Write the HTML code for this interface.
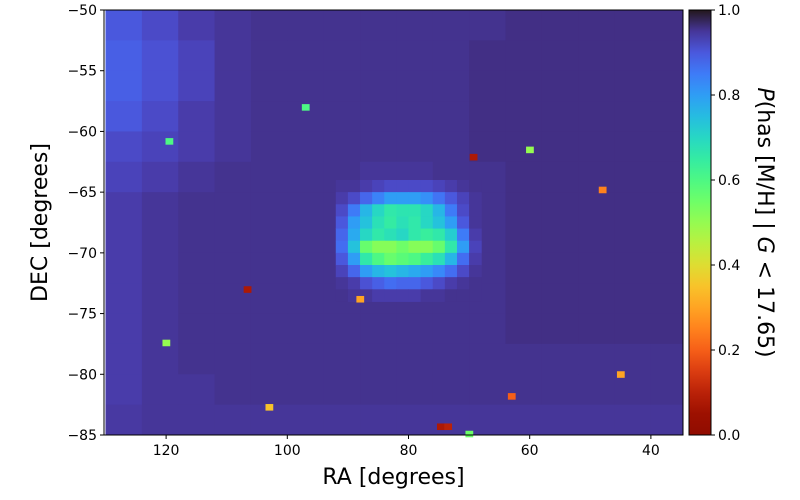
<!DOCTYPE html>
<html><head><meta charset="utf-8"><style>
html,body{margin:0;padding:0;background:#fff;}
svg{display:block;font-family:"DejaVu Sans","Liberation Sans",sans-serif;}
</style></head><body>
<svg id="chart" width="800" height="500" viewBox="0 0 800 500">
<defs><linearGradient id="cbar" x1="0" y1="1" x2="0" y2="0"></linearGradient></defs>
<g id="cells"></g>
<g id="axes"></g>
</svg>
<script>
// coarse background grid: 16 RA cols (6 deg each, 130 -> 34), 14 DEC rows (2.5 deg each, -50 -> -85)
const raEdges = [130,124,118,112,106,100,94,88,82,76,70,64,58,52,46,40,34];
const decEdges = [-50,-52.5,-55,-57.5,-60,-62.5,-65,-67.5,-70,-72.5,-75,-77.5,-80,-82.5,-85];
const bgValues = [
 [.9,.92,.94,.95,.955,.955,.955,.955,.955,.955,.955,.96,.96,.96,.96,.96],
 [.89,.91,.93,.95,.955,.955,.955,.955,.955,.955,.96,.96,.96,.96,.96,.96],
 [.89,.91,.93,.95,.955,.955,.955,.955,.955,.955,.96,.96,.96,.96,.96,.96],
 [.9,.92,.94,.95,.955,.955,.955,.955,.955,.955,.96,.96,.96,.96,.96,.96],
 [.92,.93,.94,.95,.955,.955,.955,.955,.955,.955,.96,.96,.96,.96,.96,.96],
 [.93,.94,.95,.955,.955,.955,.955,.95,.95,.955,.955,.96,.96,.96,.96,.96],
 [.94,.95,.955,.955,.955,.955,.955,.95,.95,.95,.955,.96,.96,.96,.96,.96],
 [.94,.95,.955,.955,.955,.955,.955,.95,.95,.95,.955,.96,.96,.96,.96,.96],
 [.94,.95,.955,.955,.955,.955,.955,.955,.955,.955,.955,.96,.96,.96,.96,.96],
 [.94,.95,.955,.955,.955,.955,.955,.955,.955,.955,.955,.96,.96,.96,.96,.96],
 [.94,.95,.955,.955,.955,.955,.955,.955,.955,.955,.955,.96,.96,.96,.96,.96],
 [.94,.95,.955,.955,.955,.955,.955,.955,.955,.955,.955,.955,.955,.955,.955,.955],
 [.94,.95,.95,.955,.955,.955,.955,.955,.955,.955,.955,.955,.955,.955,.955,.955],
 [.945,.95,.95,.95,.95,.95,.95,.95,.95,.95,.95,.95,.95,.95,.95,.95]
];
// fine LMC grid: RA 92 -> 68 step 2, DEC -64 -> -74 step 1
const lmcRa = [92,90,88,86,84,82,80,78,76,74,72,70,68];
const lmcDec = [-64,-65,-66,-67,-68,-69,-70,-71,-72,-73,-74];
const lmcValues = [
 [.95,.95,.94,.93,.92,.92,.92,.92,.93,.94,.95,.955],
 [.94,.92,.88,.84,.8,.8,.8,.82,.86,.9,.93,.95],
 [.92,.85,.76,.7,.66,.67,.67,.7,.76,.85,.92,.95],
 [.9,.8,.74,.68,.65,.68,.66,.7,.74,.8,.9,.95],
 [.88,.78,.7,.66,.68,.7,.66,.64,.66,.72,.85,.94],
 [.87,.74,.56,.52,.52,.55,.52,.52,.56,.66,.8,.93],
 [.9,.8,.66,.6,.56,.58,.6,.64,.68,.76,.87,.94],
 [.93,.88,.8,.76,.74,.76,.78,.8,.83,.87,.92,.95],
 [.95,.94,.91,.89,.87,.88,.88,.9,.92,.94,.95,.955],
 [.955,.95,.95,.94,.94,.94,.94,.95,.95,.955,.955,.955]
];
// isolated outlier pixels: RA, DEC, value
const spotRa  = [69.3,106.6,119.5,74.7,73.5,103,63,45,48,60,88,97,120,70];
const spotDec = [-62.1,-73,-60.8,-84.3,-84.3,-82.7,-81.8,-80,-64.8,-61.5,-73.8,-58,-77.4,-84.9];
const spotVal = [.08,.08,.6,.08,.1,.35,.2,.3,.25,.5,.3,.6,.5,.55];
const xTicks = [120,100,80,60,40];
const yTicks = [-50,-55,-60,-65,-70,-75,-80,-85];
const cTicks = [0,0.2,0.4,0.6,0.8,1.0];

const X0=104,X1=683,Y0=10,Y1=435, RA0=130.25, RA1=34.7, D0=-50, D1=-85;
const xs = ra => X0 + (RA0-ra)/(RA0-RA1)*(X1-X0);
const ys = d => Y0 + (D0-d)/(D0-D1)*(Y1-Y0);
function turbo(t){t=Math.max(0,Math.min(1,t));
 const r=34.61+t*(1172.33-t*(10793.56-t*(33300.12-t*(38394.49-t*14825.05))));
 const g=23.31+t*(557.33+t*(1225.33-t*(3574.96-t*(1073.77+t*707.56))));
 const b=27.2+t*(3211.1-t*(15327.97-t*(27814-t*(22569.18-t*6838.66))));
 const c=v=>Math.max(0,Math.min(255,Math.round(v)));
 return `rgb(${c(r)},${c(g)},${c(b)})`;}
const col = p => turbo(1-p);
const NS="http://www.w3.org/2000/svg";
function mk(tag,attrs,parent){const e=document.createElementNS(NS,tag);for(const k in attrs)e.setAttribute(k,attrs[k]);parent.appendChild(e);return e;}
const cells=document.getElementById('cells'), axes=document.getElementById('axes');
function cell(raA,raB,dA,dB,p,name){
 const xa=Math.max(X0,xs(raA)), xb=Math.min(X1,xs(raB));
 const r=mk('rect',{x:xa,y:ys(dA),width:xb-xa+0.5,height:ys(dB)-ys(dA)+0.5,fill:col(p)},cells);
 
 
}
for(let i=0;i<decEdges.length-1;i++)for(let j=0;j<raEdges.length-1;j++)
 cell(raEdges[j],raEdges[j+1],decEdges[i],decEdges[i+1],bgValues[i][j],'heatmap-cell');
for(let i=0;i<lmcDec.length-1;i++)for(let j=0;j<lmcRa.length-1;j++)
 cell(lmcRa[j],lmcRa[j+1],lmcDec[i],lmcDec[i+1],lmcValues[i][j],'lmc-cell');
for(let k=0;k<spotRa.length;k++)
 cell(spotRa[k]+0.6,spotRa[k]-0.6,spotDec[k]+0.25,spotDec[k]-0.25,spotVal[k],'outlier-pixel');

let fr=mk('rect',{x:X0,y:Y0,width:X1-X0,height:Y1-Y0,fill:'none',stroke:'#000','stroke-width':1},axes);


xTicks.forEach(v=>{const x=xs(v);
 mk('line',{x1:x,x2:x,y1:Y1,y2:Y1+4,stroke:'#000'},axes);
 const t=mk('text',{x:x,y:Y1+20,'text-anchor':'middle','font-size':14},axes);t.textContent=v;
 
 });
yTicks.forEach(v=>{const y=ys(v);
 mk('line',{x1:X0-4,x2:X0,y1:y,y2:y,stroke:'#000'},axes);
 const t=mk('text',{x:X0-7,y:y+5,'text-anchor':'end','font-size':14},axes);t.textContent='\u2212'+Math.abs(v);
 
 });
let xl=mk('text',{x:(X0+X1)/2,y:484,'text-anchor':'middle','font-size':22},axes);xl.textContent='RA [degrees]';


let yl=mk('text',{x:0,y:0,'text-anchor':'middle','font-size':22,transform:`translate(47,${(Y0+Y1)/2}) rotate(-90)`},axes);yl.textContent='DEC [degrees]';



const CX0=689,CX1=711;
const gr=document.getElementById('cbar');
for(let i=0;i<=20;i++){mk('stop',{offset:i/20,'stop-color':col(i/20)},gr);}
let cb=mk('rect',{x:CX0,y:Y0,width:CX1-CX0,height:Y1-Y0,fill:'url(#cbar)',stroke:'#000','stroke-width':1},axes);


cTicks.forEach(v=>{const y=Y1-v*(Y1-Y0);
 mk('line',{x1:CX1,x2:CX1+4,y1:y,y2:y,stroke:'#000'},axes);
 const t=mk('text',{x:CX1+7,y:y+5,'font-size':14},axes);t.textContent=v.toFixed(1);
 
 });
let cl=mk('text',{x:0,y:0,'text-anchor':'middle','font-size':22,transform:`translate(758,${(Y0+Y1)/2}) rotate(90)`},axes);
cl.innerHTML='<tspan font-style="italic">P</tspan>(has [M/H] | <tspan font-style="italic">G</tspan> &lt; 17.65)';


</script>
</body></html>
